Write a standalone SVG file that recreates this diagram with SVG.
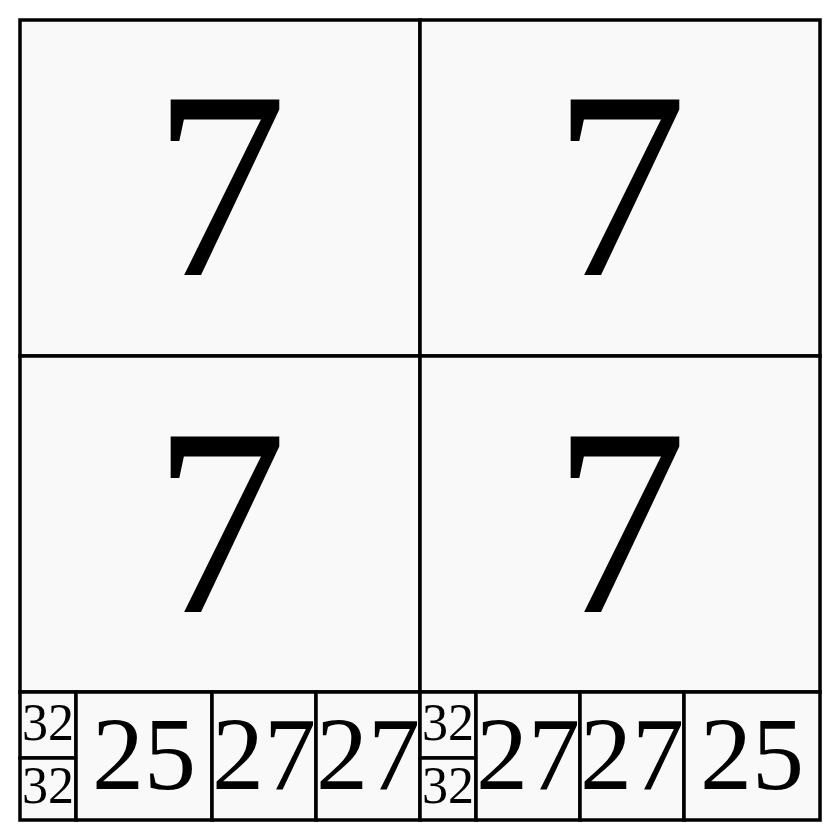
<svg xmlns="http://www.w3.org/2000/svg" width="840" height="840" viewBox="0 0 840 840">
<style>
rect.c { fill: #f9f9f9; stroke: #000; stroke-width: 3.5; }
text { font-family: "Liberation Serif", "Times New Roman", serif; fill: #000; text-anchor: middle; }
.big { font-size: 268px; }
.mid { font-size: 104px; }
.sm { font-size: 52px; }
</style>
<rect x="0" y="0" width="840" height="840" fill="#ffffff"/>
<g id="n1"><rect class="c" x="20" y="20" width="400" height="336"/><text class="big" x="220" y="275">7</text></g>
<g id="n2"><rect class="c" x="420" y="20" width="400" height="336"/><text class="big" x="620" y="275">7</text></g>
<g id="n3"><rect class="c" x="20" y="356" width="400" height="336"/><text class="big" x="220" y="612">7</text></g>
<g id="n4"><rect class="c" x="420" y="356" width="400" height="336"/><text class="big" x="620" y="612">7</text></g>
<g id="n5"><rect class="c" x="20" y="692" width="56" height="66"/><text class="sm" x="48" y="740">32</text></g>
<g id="n6"><rect class="c" x="20" y="758" width="56" height="62"/><text class="sm" x="48" y="803">32</text></g>
<g id="n7"><rect class="c" x="76" y="692" width="136" height="128"/><text class="mid" x="144" y="789">25</text></g>
<g id="n8"><rect class="c" x="212" y="692" width="104" height="128"/><text class="mid" x="264" y="789">27</text></g>
<g id="n9"><rect class="c" x="316" y="692" width="104" height="128"/><text class="mid" x="368" y="789">27</text></g>
<g id="n10"><rect class="c" x="420" y="692" width="56" height="66"/><text class="sm" x="448" y="740">32</text></g>
<g id="n11"><rect class="c" x="420" y="758" width="56" height="62"/><text class="sm" x="448" y="803">32</text></g>
<g id="n12"><rect class="c" x="476" y="692" width="104" height="128"/><text class="mid" x="528" y="789">27</text></g>
<g id="n13"><rect class="c" x="580" y="692" width="104" height="128"/><text class="mid" x="632" y="789">27</text></g>
<g id="n14"><rect class="c" x="684" y="692" width="136" height="128"/><text class="mid" x="752" y="789">25</text></g>
<g id="connectors"></g>
</svg>
